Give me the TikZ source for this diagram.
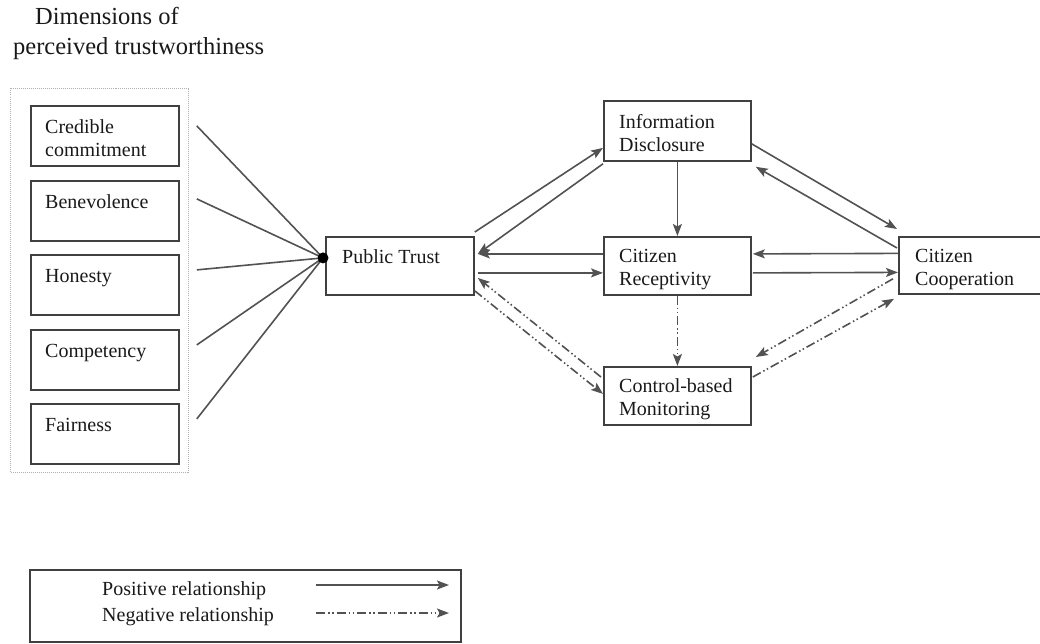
\documentclass[tikz,border=0pt]{standalone}
\usepackage{fontspec}
\setmainfont{Liberation Serif}
\usetikzlibrary{arrows.meta,calc}
\begin{document}
\begin{tikzpicture}[x=1pt,y=-1pt,
  box/.style={draw=black!75, line width=1.8pt, rectangle, inner sep=0pt, anchor=north west, minimum width=148pt, minimum height=60pt},
  txt/.style={anchor=north west, inner sep=0pt, align=left, text=black!90, font=\fontsize{20}{23}\selectfont},
  ttl/.style={anchor=base west, inner sep=0pt, text=black!90, font=\fontsize{24.5}{30}\selectfont},
  feed/.style={draw=black!68, line width=1.6pt},
  posarrow/.style={feed, -{Stealth[length=12pt,width=9pt,inset=2.5pt]}},
  negarrow/.style={posarrow, dash pattern=on 9pt off 3pt on 1.5pt off 2.5pt on 1.5pt off 3pt}
]
\useasboundingbox (0,0) rectangle (1040,644);
\clip (0,0) rectangle (1040,644);

% title
\node[ttl] (title1) at (35,25) {Dimensions of};
\node[ttl] (title2) at (13,55) {perceived trustworthiness};

% dotted group
\node[draw=black!30, line width=1pt, densely dotted, rectangle, anchor=north west, inner sep=0pt, minimum width=178pt, minimum height=384pt] (group) at (10,88) {};

% dimension boxes
\node[box] (cc1) at (30,105) {};
\node[box] (ben) at (30,180) {};
\node[box] (hon) at (30,254) {};
\node[box] (comp) at (30,329) {};
\node[box] (fair) at (30,403) {};
\node[txt] (tcc1) at ($(cc1.north west)+(15,12)$) {\strut Credible\\\strut commitment};
\node[txt] (tben) at ($(ben.north west)+(15,12)$) {\strut Benevolence};
\node[txt] (thon) at ($(hon.north west)+(15,12)$) {\strut Honesty};
\node[txt] (tcomp) at ($(comp.north west)+(15,12)$) {\strut Competency};
\node[txt] (tfair) at ($(fair.north west)+(15,12)$) {\strut Fairness};

% main boxes
\node[box, minimum height=58pt] (PT) at (325,236) {};
\node[box, minimum width=147pt] (ID) at (603,100) {};
\node[box, minimum width=147pt, minimum height=58pt] (CR) at (603,236) {};
\node[box, minimum width=147pt, minimum height=58pt] (CM) at (603,366) {};
\node[box, minimum width=160pt, minimum height=57pt] (CC) at (898,236) {};
\node[txt] (tPT) at ($(PT.north west)+(17,11)$) {\strut Public Trust};
\node[txt] (tID) at ($(ID.north west)+(16,12)$) {\strut Information\\\strut Disclosure};
\node[txt] (tCR) at ($(CR.north west)+(16,10)$) {\strut Citizen\\\strut Receptivity};
\node[txt] (tCM) at ($(CM.north west)+(16,10)$) {\strut Control-based\\\strut Monitoring};
\node[txt] (tCC) at ($(CC.north west)+(17,10)$) {\strut Citizen\\\strut Cooperation};

% hub lines
\coordinate (hub) at ([xshift=-2pt,yshift=8pt]PT.west);
\draw[feed] ([xshift=17pt,yshift=10pt]cc1.east) -- (hub);
\draw[feed] ([xshift=17pt,yshift=12pt]ben.east) -- (hub);
\draw[feed] ([xshift=17pt,yshift=15pt]hon.east) -- (hub);
\draw[feed] ([xshift=17pt,yshift=15pt]comp.east) -- (hub);
\draw[feed] ([xshift=17pt,yshift=15pt]fair.east) -- (hub);
\fill[black] (hub) circle[radius=5.5pt];

% PT <-> ID
\draw[posarrow] ([yshift=4pt]PT.north east) -- ([yshift=-17pt]ID.west);
\draw[posarrow] ([yshift=-2pt]ID.south west) -- ([xshift=3pt,yshift=12pt]PT.east);
% PT <-> CR
\draw[posarrow] ([yshift=12pt]CR.west) -- ([xshift=3pt,yshift=12pt]PT.east);
\draw[posarrow] ([xshift=3pt,yshift=-7pt]PT.east) -- ([yshift=-7pt]CR.west);
% PT <-> CM (negative)
\draw[negarrow] ([xshift=-2pt,yshift=-11pt]CM.north west) -- ([xshift=3pt,yshift=-12pt]PT.east);
\draw[negarrow] ([yshift=-25pt]PT.east) -- ([yshift=2pt]CM.west);
% vertical
\draw[posarrow] (ID.south) -- (CR.north);
\draw[negarrow] (CR.south) -- (CM.north);
% ID <-> CC
\draw[posarrow] ([yshift=-13pt]ID.east) -- ([xshift=-1pt,yshift=7pt]CC.north west);
\draw[posarrow] ([xshift=-1pt,yshift=-12pt]CC.north west) -- ([xshift=4pt,yshift=-5pt]ID.south east);
% CR <-> CC
\draw[posarrow] ([yshift=12pt]CC.west) -- ([xshift=1pt,yshift=12pt]CR.east);
\draw[posarrow] ([xshift=1pt,yshift=-7pt]CR.east) -- ([yshift=-7pt]CC.west);
% CM <-> CC (negative)
\draw[negarrow] ([xshift=-5pt,yshift=16pt]CC.south west) -- ([xshift=4pt,yshift=9pt]CM.north east);
\draw[negarrow] ([xshift=1pt,yshift=-11pt]CM.north east) -- ([xshift=-4pt,yshift=-4pt]CC.south west);

% legend
\node[box, minimum width=431pt, minimum height=72pt] (leg) at (29,569) {};
\node[anchor=base west, inner sep=0pt, text=black!90, font=\fontsize{20}{23}\selectfont] (lpos) at (102,595) {Positive relationship};
\node[anchor=base west, inner sep=0pt, text=black!90, font=\fontsize{20}{23}\selectfont] (lneg) at (102,621) {Negative relationship};
\coordinate (lp1) at (316,585);
\coordinate (lp2) at (449,585);
\coordinate (ln1) at (316,613);
\coordinate (ln2) at (449,613);
\draw[posarrow] (lp1) -- (lp2);
\draw[negarrow] (ln1) -- (ln2);
\end{tikzpicture}
\end{document}
